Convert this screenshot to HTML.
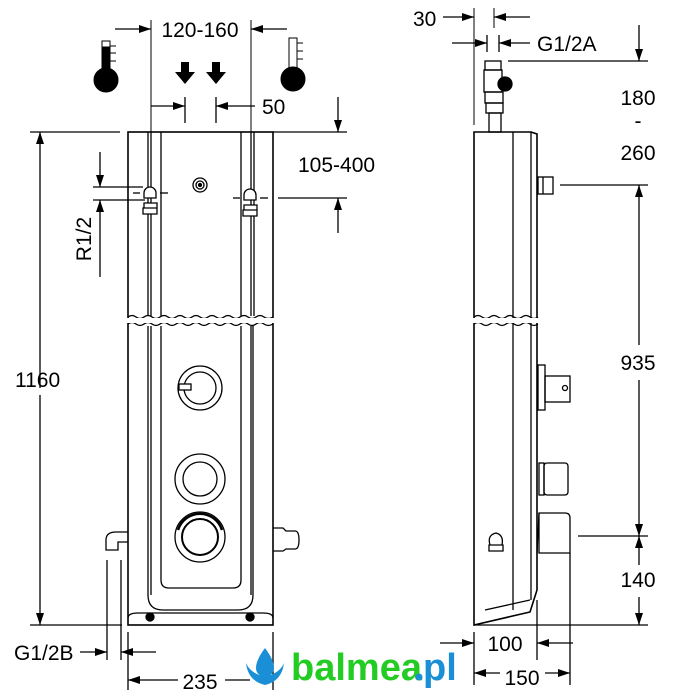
<!DOCTYPE html>
<html><head><meta charset="utf-8"><style>
html,body{margin:0;padding:0;background:#fff;width:700px;height:700px;overflow:hidden}
text{font-family:"Liberation Sans",sans-serif;fill:#000}
</style></head><body>
<svg width="700" height="700" viewBox="0 0 700 700" xmlns="http://www.w3.org/2000/svg">
<defs>
<marker id="a" markerWidth="12" markerHeight="8" refX="12" refY="4" orient="auto" markerUnits="userSpaceOnUse"><path d="M0,0 L12,4 L0,8 Z" fill="#000"/></marker>
</defs>
<g stroke="#000" stroke-width="1.3" fill="none">
<rect x="128" y="132" width="145" height="493" fill="#fff" stroke-width="1.6"/>
<line x1="148" y1="132" x2="148" y2="316"/><line x1="151" y1="132" x2="151" y2="316"/><line x1="161" y1="132" x2="161" y2="316"/>
<line x1="241" y1="132" x2="241" y2="316"/><line x1="251" y1="132" x2="251" y2="316"/><line x1="254" y1="132" x2="254" y2="316"/>
<path d="M128,317 q4,-3 8,0 t8,0 t8,0 t8,0 t8,0 t8,0 t8,0 t8,0 t8,0 t8,0 t8,0 t8,0 t8,0 t8,0 t8,0 t8,0 t8,0 t9,0"/>
<path d="M128,324 q4,-3 8,0 t8,0 t8,0 t8,0 t8,0 t8,0 t8,0 t8,0 t8,0 t8,0 t8,0 t8,0 t8,0 t8,0 t8,0 t8,0 t8,0 t9,0"/>
<rect x="127" y="318" width="148" height="5" fill="#fff" stroke="none"/>
<path d="M148,326 V595 q0,15 15,15 H238 q15,0 15,-15 V326"/>
<line x1="151" y1="326" x2="151" y2="595"/><line x1="251" y1="326" x2="251" y2="595"/>
<path d="M161,326 V580 q0,8 8,8 H233 q8,0 8,-8 V326"/>
<path d="M128,618 q0,-5 10,-5 H263 q10,0 10,5"/>
<circle cx="150" cy="617" r="4" fill="#000"/><circle cx="250" cy="617" r="4" fill="#000"/>
<circle cx="200" cy="388" r="22"/><circle cx="200" cy="388" r="16"/>
<rect x="179" y="384" width="12" height="6" fill="#fff"/>
<circle cx="200" cy="479" r="25"/><circle cx="200" cy="479" r="17"/>
<circle cx="200" cy="537" r="25"/><circle cx="200" cy="537" r="18" stroke-width="2"/><path d="M178,530 A23,23 0 0 1 222,530" stroke-width="2.5"/>
<path d="M128,532 H116 q-10,0 -10,8 V550 H118 V542 H128"/>
<path d="M273,528 H283 L286,531 H295 q4,0 4,9 q0,9 -4,9 H286 L283,551 H273"/>
<circle cx="200" cy="185" r="7"/><circle cx="200" cy="185" r="4"/><circle cx="200" cy="185" r="1.5" fill="#000"/>
<path d="M144,198 v-5 a6,6 0 0 1 12,0 v5 Z M144,203 h13 v5 h-13 Z M143,208 h14 v6 h-14 Z" fill="#fff"/>
<path d="M244,200 v-5 a6,6 0 0 1 12,0 v5 Z M244,205 h13 v5 h-13 Z M243,210 h14 v6 h-14 Z" fill="#fff"/>
<line x1="133" y1="193" x2="140" y2="193"/><line x1="160" y1="193" x2="168" y2="193"/>
<line x1="233" y1="198" x2="240" y2="198"/><line x1="260" y1="198" x2="268" y2="198"/>
<line x1="151" y1="20" x2="151" y2="132" stroke-width="1"/><line x1="251" y1="20" x2="251" y2="132" stroke-width="1"/>
<line x1="115" y1="29" x2="151" y2="29" marker-end="url(#a)"/><line x1="287" y1="29" x2="251" y2="29" marker-end="url(#a)"/>
<line x1="185" y1="97" x2="185" y2="123"/><line x1="216" y1="97" x2="216" y2="123"/>
<line x1="151" y1="106" x2="185" y2="106" marker-end="url(#a)"/><line x1="255" y1="106" x2="216" y2="106" marker-end="url(#a)"/>
<line x1="30" y1="132" x2="120" y2="132"/><line x1="273" y1="132" x2="347" y2="132"/>
<line x1="338" y1="97" x2="338" y2="132" marker-end="url(#a)"/>
<line x1="278" y1="198" x2="347" y2="198"/>
<line x1="338" y1="233" x2="338" y2="198" marker-end="url(#a)"/>
<line x1="93" y1="187" x2="143" y2="187"/><line x1="93" y1="200" x2="145" y2="200"/>
<line x1="100" y1="152" x2="100" y2="187" marker-end="url(#a)"/>
<line x1="100" y1="277" x2="100" y2="200" marker-end="url(#a)"/>
<line x1="40" y1="388" x2="40" y2="132" marker-end="url(#a)"/>
<line x1="40" y1="395" x2="40" y2="625" marker-end="url(#a)"/>
<line x1="30" y1="625" x2="122" y2="625"/>
<line x1="107" y1="560" x2="107" y2="660"/><line x1="121" y1="560" x2="121" y2="660"/>
<line x1="80" y1="652" x2="107" y2="652" marker-end="url(#a)"/><line x1="156" y1="652" x2="121" y2="652" marker-end="url(#a)"/>
<line x1="128" y1="632" x2="128" y2="690"/><line x1="273" y1="632" x2="273" y2="690"/>
<line x1="178" y1="680" x2="128" y2="680" marker-end="url(#a)"/><line x1="225" y1="680" x2="250" y2="680"/>
<path d="M474,132 H531 L537,134 V590 L530,612 L474,625 Z" fill="#fff" stroke-width="1.6"/>
<line x1="513" y1="132" x2="513" y2="610"/><line x1="531" y1="132" x2="531" y2="600"/>
<line x1="485" y1="610" x2="530" y2="600"/>
<path d="M474,317 q4,-3 8,0 t8,0 t8,0 t8,0 t8,0 t8,0 t8,0 t8,0"/>
<path d="M474,324 q4,-3 8,0 t8,0 t8,0 t8,0 t8,0 t8,0 t8,0 t8,0"/>
<rect x="473" y="318" width="66" height="5" fill="#fff" stroke="none"/>
<rect x="489" y="113" width="12" height="19"/><rect x="486" y="103" width="17" height="10"/>
<rect x="485" y="92" width="18" height="11"/><rect x="484" y="70" width="18" height="22"/><rect x="485" y="61" width="16" height="9"/>
<circle cx="505" cy="84" r="7" fill="#000"/>
<rect x="538" y="177" width="15" height="17"/><line x1="543" y1="177" x2="543" y2="194"/>
<rect x="538" y="365" width="7" height="45"/><rect x="545" y="376" width="25" height="26"/><circle cx="565" cy="388" r="2.5"/>
<rect x="539" y="463" width="5" height="32"/><rect x="544" y="463" width="24" height="32" rx="3"/>
<path d="M539,513 H565 q5,0 5,5 V553 H539 Z"/><line x1="537" y1="553" x2="539" y2="513"/>
<path d="M490,545 q-3,-10 6,-12 q8,2 6,12 Z M489,545 h14 v6 h-14 Z"/>
<line x1="474" y1="8" x2="474" y2="125" stroke-width="1"/><line x1="494" y1="8" x2="494" y2="28" stroke-width="1"/>
<line x1="443" y1="17" x2="474" y2="17" marker-end="url(#a)"/><line x1="530" y1="17" x2="494" y2="17" marker-end="url(#a)"/>
<line x1="487" y1="35" x2="487" y2="52"/><line x1="499" y1="35" x2="499" y2="52"/>
<line x1="452" y1="43" x2="487" y2="43" marker-end="url(#a)"/><line x1="530" y1="43" x2="499" y2="43" marker-end="url(#a)"/>
<line x1="639" y1="25" x2="639" y2="61" marker-end="url(#a)"/>
<line x1="508" y1="61" x2="648" y2="61"/>
<line x1="560" y1="185" x2="648" y2="185"/>
<line x1="639" y1="345" x2="639" y2="185" marker-end="url(#a)"/>
<line x1="639" y1="380" x2="639" y2="536" marker-end="url(#a)"/>
<line x1="578" y1="536" x2="648" y2="536"/>
<line x1="639" y1="565" x2="639" y2="536" marker-end="url(#a)"/>
<line x1="639" y1="597" x2="639" y2="625" marker-end="url(#a)"/>
<line x1="474" y1="625" x2="648" y2="625"/>
<line x1="474" y1="632" x2="474" y2="685"/><line x1="537" y1="600" x2="537" y2="660"/><line x1="570" y1="553" x2="570" y2="685"/>
<line x1="440" y1="643" x2="474" y2="643" marker-end="url(#a)"/><line x1="573" y1="643" x2="537" y2="643" marker-end="url(#a)"/>
<line x1="500" y1="673" x2="474" y2="673" marker-end="url(#a)"/><line x1="545" y1="673" x2="570" y2="673" marker-end="url(#a)"/>
</g>
<g fill="#000" stroke="#000" stroke-width="1">
<rect x="102" y="41" width="8" height="34" fill="#fff"/><rect x="102" y="47" width="8" height="30"/>
<circle cx="106" cy="80" r="12"/>
<line x1="110" y1="46" x2="116" y2="46"/><line x1="110" y1="53" x2="116" y2="53"/><line x1="110" y1="61" x2="116" y2="61"/>
<rect x="289" y="38" width="8" height="35" fill="#fff"/>
<circle cx="293" cy="79" r="12"/>
<line x1="297" y1="43" x2="303" y2="43"/><line x1="297" y1="51" x2="303" y2="51"/><line x1="297" y1="59" x2="303" y2="59"/>
</g>
<path d="M181,62 h8 v10 h6 l-10,12 l-10,-12 h6 Z" fill="#000"/>
<path d="M212,62 h8 v10 h6 l-10,12 l-10,-12 h6 Z" fill="#000"/>
<g font-size="21">
<text x="200" y="37" text-anchor="middle">120-160</text>
<text x="262" y="114">50</text>
<text x="298" y="172">105-400</text>
<text x="97" y="245" text-anchor="middle" transform="rotate(-90 91 245)">R1/2</text>
<text x="15" y="387">1160</text>
<text x="14" y="660">G1/2B</text>
<text x="200" y="689" text-anchor="middle">235</text>
<text x="413" y="26">30</text>
<text x="537" y="51">G1/2A</text>
<text x="638" y="105" text-anchor="middle">180</text>
<text x="638" y="128" text-anchor="middle">-</text>
<text x="638" y="160" text-anchor="middle">260</text>
<text x="638" y="370" text-anchor="middle">935</text>
<text x="638" y="587" text-anchor="middle">140</text>
<text x="505" y="651" text-anchor="middle">100</text>
<text x="522" y="685" text-anchor="middle">150</text>
</g>
<g>
<path d="M265,648 q-9,12 -9,20 a9,9 0 0 0 18,0 q0,-8 -9,-20 Z" fill="#1a8fd6"/>
<path d="M246,663 q2,18 19,22 q17,-4 19,-22 q-4,10 -19,14 q-15,-4 -19,-14 Z" fill="#1a8fd6"/>
<text x="291" y="680" font-size="38" font-weight="bold" style="fill:#22cc22">balmea</text>
<circle cx="419" cy="677" r="3.5" fill="#1a8fd6"/>
<text x="423" y="680" font-size="38" font-weight="bold" style="fill:#1a8fd6">pl</text>
</g>
</svg>
</body></html>
